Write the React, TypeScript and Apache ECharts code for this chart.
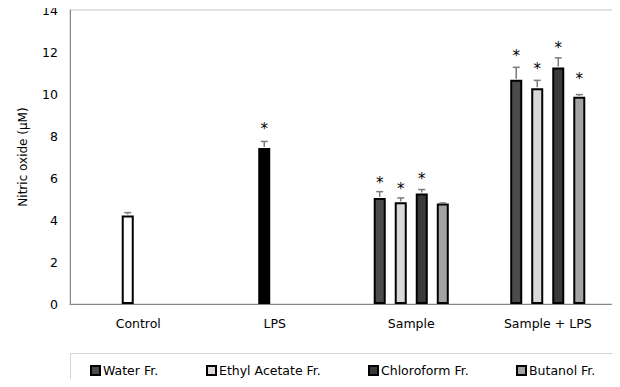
import React, { useEffect, useRef } from "react";
import * as echarts from "echarts";

const categories = ["Control", "LPS", "Sample", "Sample + LPS"];
const seriesNames = ["Water Fr.", "Ethyl Acetate Fr.", "Chloroform Fr.", "Butanol Fr."];
const seriesColors = ["#4b4b4b", "#d9d9d9", "#3a3a3a", "#a3a3a3"];

// Control / LPS single bars (drawn in the 2nd slot)
const controlValues = [4.22, 7.43, null, null];
const controlErrTop = [4.35, 7.74, null, null];
const controlStar = [null, 8.53, null, null];
const controlColors = ["#ffffff", "#000000"];

const waterValues = [null, null, 5.05, 10.68];
const waterErrTop = [null, null, 5.35, 11.27];
const waterStar = [null, null, 5.94, 11.99];

const ethylValues = [null, null, 4.84, 10.27];
const ethylErrTop = [null, null, 5.05, 10.65];
const ethylStar = [null, null, 5.69, 11.39];

const chloroValues = [null, null, 5.26, 11.26];
const chloroErrTop = [null, null, 5.45, 11.72];
const chloroStar = [null, null, 6.14, 12.39];

const butanolValues = [null, null, 4.78, 9.87];
const butanolErrTop = [null, null, 4.81, 9.97];
const butanolStar = [null, null, null, 10.9];

const yTicks = { min: 0, max: 14, interval: 2 };

const FONT = "DejaVu Sans, Verdana, sans-serif";
const FS = 12.5;
const BAR_W = 0.088; // fraction of band
const BAR_GAP = 0.75; // fraction of bar width
const SLOT_STEP = BAR_W * (1 + BAR_GAP);

const legendLefts = [90, 206, 368, 516];

export default function App() {
  const ref = useRef<HTMLDivElement>(null);
  useEffect(() => {
    if (!ref.current) return;
    const chart = echarts.init(ref.current, undefined, { renderer: "svg" });

    const valueSets = [waterValues, ethylValues, chloroValues, butanolValues];
    const errSets = [waterErrTop, ethylErrTop, chloroErrTop, butanolErrTop];
    const starSets = [waterStar, ethylStar, chloroStar, butanolStar];

    const errData: any[] = [];
    valueSets.forEach((vals, slot) => {
      vals.forEach((v, ci) => {
        if (v == null) return;
        errData.push([ci, slot, v, errSets[slot][ci], starSets[slot][ci] ?? NaN]);
      });
    });
    controlValues.forEach((v, ci) => {
      if (v == null) return;
      errData.push([ci, 1, v, controlErrTop[ci], controlStar[ci] ?? NaN]);
    });

    const toData = (arr: (number | null)[]) => arr.map((v) => (v == null ? "-" : v));

    const barSeries: any[] = valueSets.map((vals, i) => ({
      name: seriesNames[i],
      type: "bar",
      stack: i === 1 ? "slot2" : undefined,
      data: toData(vals),
      barWidth: BAR_W * 100 + "%",
      barGap: BAR_GAP * 100 + "%",
      itemStyle: { color: seriesColors[i], borderColor: "#000", borderWidth: 2 },
      z: 2,
    }));
    barSeries.push({
      name: "Control",
      type: "bar",
      stack: "slot2",
      data: controlValues.map((v, i) =>
        v == null ? "-" : { value: v, itemStyle: { color: controlColors[i] } }
      ),
      barWidth: BAR_W * 100 + "%",
      barGap: BAR_GAP * 100 + "%",
      itemStyle: { borderColor: "#000", borderWidth: 2 },
      z: 2,
    });

    const option: any = {
      animation: false,
      textStyle: { fontFamily: FONT },
      grid: {
        left: 70,
        right: 4,
        top: 10,
        bottom: 83,
        show: true,
        borderColor: "#c6c6c6",
        borderWidth: 1,
      },
      legend: seriesNames.map((n, i) => ({
        data: [n],
        left: legendLefts[i],
        top: 364,
        padding: 0,
        itemWidth: 9,
        itemHeight: 9,
        icon: "rect",
        selectedMode: false,
        itemStyle: { color: seriesColors[i], borderColor: "#000", borderWidth: 2 },
        textStyle: { fontFamily: FONT, fontSize: FS, color: "#000", padding: [0, 0, 0, -2] },
      })),
      graphic: [
        {
          type: "rect",
          left: 68,
          top: 351,
          shape: { width: 560, height: 60 },
          style: { fill: "none", stroke: "#d4d4d4", lineWidth: 1 },
          silent: true,
        },
      ],
      xAxis: {
        type: "category",
        data: categories,
        axisLine: { lineStyle: { color: "#888", width: 1 } },
        axisTick: { show: false },
        axisLabel: { color: "#000", fontSize: FS, margin: 13, fontFamily: FONT },
      },
      yAxis: {
        type: "value",
        min: yTicks.min,
        max: yTicks.max,
        interval: yTicks.interval,
        name: "Nitric oxide (μM)",
        nameLocation: "middle",
        nameGap: 41,
        nameTextStyle: { color: "#000", fontSize: 12, fontFamily: FONT },
        axisLine: { show: true, lineStyle: { color: "#888", width: 1 } },
        axisTick: { show: false },
        splitLine: { show: false },
        axisLabel: { color: "#000", fontSize: FS, margin: 12, fontFamily: FONT },
      },
      series: [
        ...barSeries,
        {
          type: "custom",
          name: "errors",
          data: errData,
          z: 5,
          itemStyle: { color: "#000" },
          encode: { x: 0, y: 3 },
          renderItem: (params: any, api: any) => {
            const ci = api.value(0);
            const slot = api.value(1);
            const v = api.value(2);
            const e = api.value(3);
            const s = api.value(4);
            const band = api.size([1, 0])[0];
            const off = (slot - 1.5) * band * SLOT_STEP;
            const base = api.coord([ci, v]);
            const top = api.coord([ci, e]);
            const x = base[0] + off;
            const children: any[] = [
              {
                type: "line",
                shape: { x1: x, y1: base[1] - 1, x2: x, y2: top[1] },
                style: { stroke: "#7a7a7a", lineWidth: 1.5 },
              },
              {
                type: "line",
                shape: { x1: x - 3.5, y1: top[1], x2: x + 3.5, y2: top[1] },
                style: { stroke: "#7a7a7a", lineWidth: 1.5 },
              },
            ];
            if (!isNaN(s)) {
              const sp = api.coord([ci, s]);
              children.push({
                type: "text",
                x: x,
                y: sp[1] + 4,
                style: {
                  text: "*",
                  fontSize: 15,
                  fontFamily: FONT,
                  fill: "#000",
                  align: "center",
                  verticalAlign: "middle",
                },
              });
            }
            return { type: "group", children };
          },
        },
      ],
    };
    chart.setOption(option);
    return () => chart.dispose();
  }, []);
  return <div ref={ref} style={{ width: 620, height: 387, margin: -8 }} />;
}
